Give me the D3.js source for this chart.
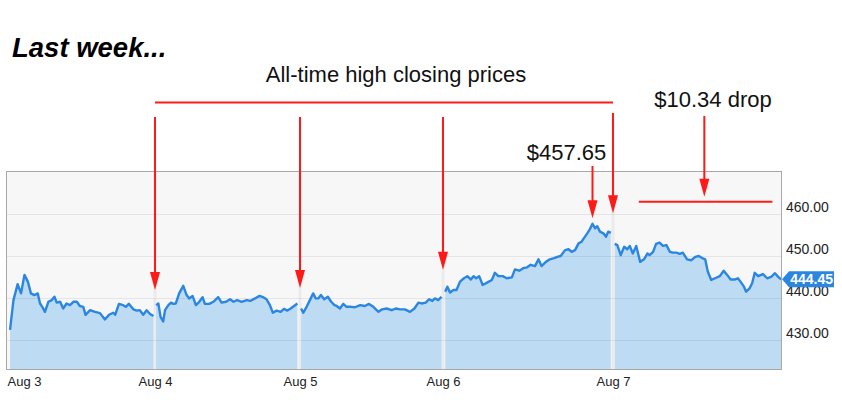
<!DOCTYPE html>
<html>
<head>
<meta charset="utf-8">
<script src="https://cdn.jsdelivr.net/npm/d3@7"></script>
<style>
	body { margin: 0; background: #fff; }
	svg { display: block; font-family: "Liberation Sans", Arial, Helvetica, sans-serif; }
</style>
</head>
<body>
<svg id="chart" width="842" height="400"></svg>
<script>
"use strict";

// Trading days shown on the x axis
var days = ["Aug 3", "Aug 4", "Aug 5", "Aug 6", "Aug 7"];

// Intraday prices per day: [minutes after open, price]
var aug3 = [[8,432.4],[17,439.5],[28,443.3],[37,441.1],[46,445.5],[55,443.9],[63,441.1],[72,440.7],
	[81,441.1],[87,438.7],[93,437.9],[100,436.7],[109,439.1],[118,439.5],[125,440.3],[131,438.9],
	[140,439.1],[148,437.5],[157,438.7],[166,438.3],[175,439.1],[184,439.1],[192,438.1],[201,437.9],
	[207,436.0],[219,437.1],[232,436.7],[245,436.4],[258,434.9],[269,436.0],[280,436.5],[285,436.0],
	[295,438.6],[306,438.3],[313,437.9],[321,438.6],[333,437.3],[342,437.0],[350,437.1],[359,436.0],
	[368,437.1],[377,436.2],[386,435.7]];
var aug4 = [[3,438.3],[9,438.7],[15,435.5],[22,434.4],[27,437.1],[36,438.3],[43,438.9],[49,438.6],
	[56,438.7],[65,441.1],[76,442.9],[85,440.7],[92,439.9],[101,440.5],[110,438.3],[119,439.1],
	[128,440.2],[134,438.6],[146,438.6],[157,439.1],[170,440.2],[179,438.9],[191,439.1],[202,439.7],
	[211,439.1],[221,439.5],[233,439.1],[247,439.5],[256,439.3],[269,439.9],[281,440.5],[291,440.2],
	[300,439.7],[309,438.3],[317,436.5],[327,437.0],[338,436.7],[347,437.4],[356,437.0],[365,437.5],
	[374,438.1],[383,438.7]];
var aug5 = [[3,437.5],[9,436.5],[18,437.9],[27,439.5],[36,441.1],[43,439.9],[50,439.9],[57,440.7],
	[66,439.7],[76,440.3],[85,439.1],[94,438.3],[100,438.1],[109,437.5],[118,438.6],[127,437.9],
	[139,437.9],[150,437.8],[164,438.3],[177,438.1],[188,438.6],[200,437.9],[214,436.7],[224,437.3],
	[236,437.5],[250,437.1],[261,437.5],[273,437.3],[286,437.3],[300,436.7],[312,437.5],[323,438.9],
	[332,438.7],[343,438.9],[352,439.7],[361,439.3],[368,439.9],[377,439.5],[386,440.3]];
var aug6 = [[5,441.5],[10,442.7],[16,441.3],[24,441.9],[31,441.9],[39,443.9],[48,444.7],[56,445.2],
	[64,444.4],[70,445.2],[76,444.7],[83,445.2],[91,443.1],[100,443.6],[112,444.3],[119,446.0],
	[127,445.2],[137,445.2],[146,444.7],[158,444.9],[165,446.8],[175,446.5],[184,447.1],[193,447.3],
	[201,447.9],[211,447.6],[219,449.2],[226,447.6],[236,448.6],[245,449.2],[255,449.5],[262,449.8],
	[270,450.0],[280,451.4],[288,451.6],[295,451.0],[303,451.4],[311,453.0],[318,453.4],[323,454.2],
	[331,455.4],[337,456.4],[343,457.65],[349,456.6],[354,457.1],[360,455.8],[368,455.4],[374,454.6],
	[379,455.8],[385,455.5]];
var aug7 = [[4,452.9],[10,452.6],[18,450.2],[26,452.2],[33,451.6],[39,452.4],[46,450.6],[54,452.4],
	[63,448.6],[72,449.2],[80,450.6],[85,450.2],[93,451.0],[100,452.9],[108,453.2],[116,452.4],
	[124,452.6],[132,451.0],[139,450.8],[147,450.8],[155,450.5],[162,450.8],[172,449.2],[182,449.0],
	[191,449.8],[199,450.0],[207,449.5],[214,449.2],[220,446.3],[228,444.3],[237,444.7],[248,445.2],
	[257,446.5],[265,445.5],[273,444.4],[282,444.4],[290,444.7],[296,443.9],[304,442.7],[309,441.5],
	[317,442.3],[323,443.5],[329,446.0],[337,445.2],[348,445.7],[358,444.7],[368,445.1],[376,445.9],
	[383,445.1],[390,444.45]];
var sessions = [aug3, aug4, aug5, aug6, aug7];

var priceTicks = [430, 440, 450, 460];
var lastPrice = 444.45;

// Annotations
var title = "Last week...";
var highsLabel = "All-time high closing prices";
var peakLabel = "$457.65";
var dropLabel = "$10.34 drop";
var highTips = [441.9, 442.4, 446.7, 460.2];   // price level where each arrow ends
var peakArrow = { minute: 3 * 390 + 343, tip: 459.0 };
var dropArrow = { minute: 4 * 390 + 212, tip: 464.1, from: 4 * 390 + 60, to: 4 * 390 + 370, level: 462.9 };

var SESSION = 390;
var svg = d3.select("#chart");
var plot = { left: 7, right: 781, top: 172, bottom: 369 };

// piecewise scale, one segment per trading day
var x = d3.scaleLinear()
	.domain(d3.range(days.length + 1).map(function(d) { return d * SESSION; }))
	.range([7, 155, 300, 443, 613, 781]);
var y = d3.scaleLinear().domain([430, 460]).range([340, 214]);

// background
svg.append("rect")
	.attr("x", plot.left)
	.attr("y", plot.top)
	.attr("width", plot.right - plot.left)
	.attr("height", plot.bottom - plot.top)
	.attr("fill", "#f7f7f7");

// day separators
svg.selectAll(".sep").data(d3.range(1, days.length))
	.enter().append("line")
	.attr("class", "sep")
	.attr("x1", function(d) { return x(d * SESSION); })
	.attr("x2", function(d) { return x(d * SESSION); })
	.attr("y1", plot.top)
	.attr("y2", plot.bottom)
	.attr("stroke", "#ebebeb")
	.attr("stroke-width", 3);

var area = d3.area()
	.x(function(d) { return x(d.t); })
	.y0(plot.bottom)
	.y1(function(d) { return y(d.p); });
var line = d3.line()
	.x(function(d) { return x(d.t); })
	.y(function(d) { return y(d.p); });

var series = sessions.map(function(s, i) {
	return s.map(function(d) { return { t: i * SESSION + d[0], p: d[1] }; });
});

svg.selectAll(".area").data(series)
	.enter().append("path")
	.attr("class", "area")
	.attr("d", area)
	.attr("fill", "#bddcf4");

// grid
svg.append("g")
	.attr("transform", "translate(" + plot.left + ",0)")
	.call(d3.axisRight(y).tickValues(priceTicks).tickSize(plot.right - plot.left).tickFormat(""))
	.call(function(g) {
		g.select(".domain").remove();
		g.selectAll("line").attr("stroke", "rgba(0,0,0,0.07)");
	});

svg.selectAll(".line").data(series)
	.enter().append("path")
	.attr("class", "line")
	.attr("d", line)
	.attr("fill", "none")
	.attr("stroke", "#2b86e2")
	.attr("stroke-width", 2.4)
	.attr("stroke-linejoin", "round");

// frame
svg.append("rect")
	.attr("x", plot.left - 0.5)
	.attr("y", plot.top - 0.5)
	.attr("width", plot.right - plot.left + 1)
	.attr("height", plot.bottom - plot.top + 1)
	.attr("fill", "none")
	.attr("stroke", "#a8a8a8");

// y axis on the right
svg.append("g")
	.attr("transform", "translate(" + plot.right + ",0)")
	.call(d3.axisRight(y).tickValues(priceTicks).tickSize(0).tickPadding(5)
		.tickFormat(function(d) { return d.toFixed(2); }))
	.call(function(g) {
		g.select(".domain").remove();
		g.selectAll("text")
			.attr("dy", "-0.15em")
			.attr("fill", "#222")
			.style("font-size", "14px");
	});

// x axis
svg.append("g")
	.attr("transform", "translate(0," + plot.bottom + ")")
	.call(d3.axisBottom(x).tickValues(d3.range(days.length).map(function(d) { return d * SESSION; }))
		.tickSize(0).tickPadding(8)
		.tickFormat(function(d) { return days[d / SESSION]; }))
	.call(function(g) {
		g.select(".domain").remove();
		g.selectAll("text")
			.attr("fill", "#222")
			.style("font-size", "13px")
			.style("text-anchor", function(d, i) { return i === 0 ? "start" : "middle"; });
	});

// last price badge
var yb = y(lastPrice);
svg.append("path")
	.attr("d", "M" + (plot.right + 1) + "," + yb + "L" + (plot.right + 8) + "," + (yb - 8) +
		"H834V" + (yb + 8) + "H" + (plot.right + 8) + "Z")
	.attr("fill", "#2b86e2");
svg.append("text")
	.attr("x", 833)
	.attr("y", yb + 5)
	.attr("text-anchor", "end")
	.attr("fill", "#fff")
	.style("font-size", "14px")
	.style("font-weight", "bold")
	.text(lastPrice.toFixed(2));

// annotations
var red = "#ff1a1a";
function arrow(ax, y1, y2) {
	svg.append("line")
		.attr("x1", ax).attr("x2", ax)
		.attr("y1", y1).attr("y2", y2 - 16)
		.attr("stroke", red)
		.attr("stroke-width", 2);
	svg.append("path")
		.attr("d", "M" + (ax - 5) + "," + (y2 - 18) + "L" + (ax + 5) + "," + (y2 - 18) + "L" + ax + "," + y2 + "Z")
		.attr("fill", red);
}

svg.append("text")
	.attr("x", 12)
	.attr("y", 57)
	.style("font-size", "27.5px")
	.style("font-weight", "bold")
	.style("font-style", "italic")
	.attr("fill", "#000")
	.text(title);

svg.append("text")
	.attr("x", (x(SESSION) + x(4 * SESSION)) / 2 + 12)
	.attr("y", 82)
	.attr("text-anchor", "middle")
	.style("font-size", "22px")
	.attr("fill", "#111")
	.text(highsLabel);

svg.append("line")
	.attr("x1", x(SESSION)).attr("x2", x(4 * SESSION))
	.attr("y1", 102.5).attr("y2", 102.5)
	.attr("stroke", red)
	.attr("stroke-width", 2);

highTips.forEach(function(p, i) {
	arrow(x((i + 1) * SESSION), i === 3 ? 113 : 117, y(p));
});

svg.append("text")
	.attr("x", x(peakArrow.minute) - 26)
	.attr("y", 160)
	.attr("text-anchor", "middle")
	.style("font-size", "22px")
	.attr("fill", "#111")
	.text(peakLabel);
arrow(x(peakArrow.minute), 166, y(peakArrow.tip));

svg.append("text")
	.attr("x", 713)
	.attr("y", 107)
	.attr("text-anchor", "middle")
	.style("font-size", "22px")
	.attr("fill", "#111")
	.text(dropLabel);
arrow(x(dropArrow.minute), 116, y(dropArrow.tip));
svg.append("line")
	.attr("x1", x(dropArrow.from)).attr("x2", x(dropArrow.to))
	.attr("y1", y(dropArrow.level)).attr("y2", y(dropArrow.level))
	.attr("stroke", red)
	.attr("stroke-width", 2);
</script>
</body>
</html>
